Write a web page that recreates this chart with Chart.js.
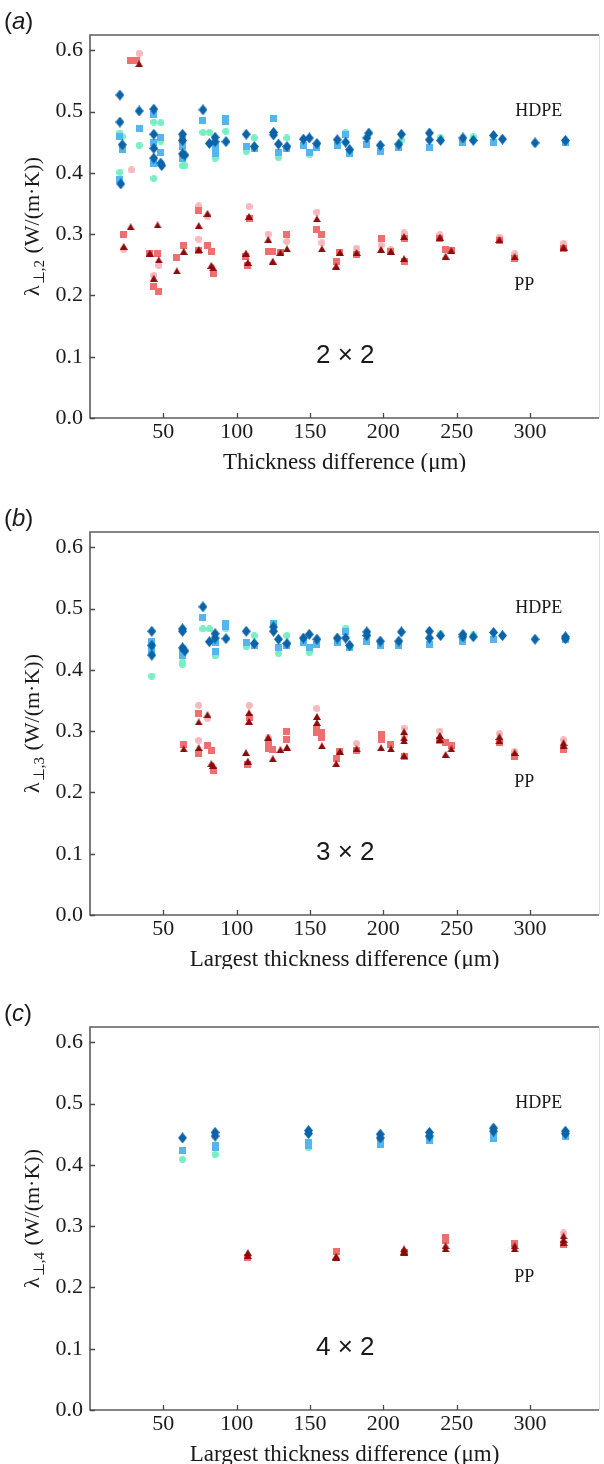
<!DOCTYPE html>
<html>
<head>
<meta charset="utf-8">
<script src="https://cdn.jsdelivr.net/npm/chart.js@4.4.1/dist/chart.umd.min.js"></script>
<style>
  html, body { margin: 0; padding: 0; background: #fff; }
  body { width: 604px; height: 1464px; position: relative; overflow: hidden; }
  .panel { position: absolute; left: 0; width: 604px; height: 472px; }
</style>
</head>
<body>
<div class="panel" style="top:0px"><canvas id="chartA" width="604" height="472"></canvas></div>
<div class="panel" style="top:497px"><canvas id="chartB" width="604" height="472"></canvas></div>
<div class="panel" style="top:992px"><canvas id="chartC" width="604" height="472"></canvas></div>
<script>
// ---- data: [thickness difference (um), lambda (W/(m.K))] ----

// (a) 2 x 2
const aHdpeCircle = [[20.4,0.465],[21,0.459],[20.4,0.401],[22,0.459],[33.5,0.445],[43.5,0.483],[43.5,0.391],[48.2,0.482],[48.2,0.452],[63.1,0.412],[64.7,0.412],[77,0.466],[81.4,0.466],[85.3,0.424],[92.7,0.468],[106.5,0.435],[112,0.457],[128.5,0.425],[134.3,0.457],[149.5,0.43],[174.3,0.466],[212.3,0.454],[239,0.458],[261.3,0.459]];
const aHdpeSquare = [[20.4,0.459],[22,0.438],[20.4,0.389],[33.5,0.472],[43.5,0.496],[43.5,0.449],[43.5,0.416],[48.2,0.457],[48.2,0.433],[63.1,0.443],[63.1,0.454],[63.1,0.424],[77,0.486],[85.3,0.443],[85.3,0.431],[92.7,0.488],[92.7,0.484],[106.5,0.443],[112,0.44],[125.1,0.488],[128.5,0.433],[134.3,0.44],[145.5,0.445],[149.5,0.434],[154.7,0.441],[168.6,0.445],[174.3,0.463],[177,0.432],[188.7,0.446],[197.9,0.435],[210.5,0.441],[231.4,0.441],[254.2,0.449],[275.1,0.449],[324.1,0.45]];
const aHdpeDiamond = [[20.4,0.527],[20.4,0.483],[22,0.446],[21,0.382],[33.5,0.501],[43.5,0.504],[43.5,0.463],[43.5,0.44],[43.5,0.424],[48.2,0.416],[48.9,0.412],[63.1,0.463],[63.1,0.453],[63.1,0.431],[64.7,0.429],[77,0.503],[81.4,0.448],[85.3,0.458],[85.3,0.451],[92.7,0.451],[106.5,0.463],[112,0.443],[125.1,0.466],[125.1,0.462],[128.5,0.447],[134.3,0.443],[145.5,0.455],[149.5,0.457],[154.7,0.448],[168.6,0.454],[174.3,0.45],[177,0.438],[188.7,0.457],[190.1,0.465],[197.9,0.445],[210.5,0.447],[212.3,0.463],[231.4,0.465],[231.4,0.454],[239,0.453],[254.2,0.457],[261.3,0.453],[275.1,0.461],[281.2,0.455],[303.4,0.449],[324.1,0.453]];
const aPpCircle = [[33.5,0.595],[28.3,0.405],[23,0.275],[43.5,0.233],[46.9,0.249],[74.1,0.346],[74.1,0.292],[80.1,0.329],[108.4,0.345],[121.5,0.3],[134.3,0.288],[154.7,0.336],[158.1,0.286],[181.7,0.277],[198.4,0.282],[205.2,0.275],[214.1,0.302],[238.5,0.299],[279.1,0.295],[289.5,0.268],[322.8,0.285]];
const aPpSquare = [[27.7,0.584],[31.7,0.584],[23,0.3],[40.8,0.269],[46.1,0.269],[43.5,0.214],[46.9,0.206],[59.2,0.262],[63.9,0.281],[74.1,0.338],[74.1,0.273],[80.1,0.282],[82.7,0.272],[84,0.236],[106.3,0.264],[107.6,0.249],[108.4,0.326],[121.5,0.272],[124.6,0.272],[129.8,0.27],[134.3,0.3],[154.7,0.307],[158.1,0.3],[167.8,0.255],[170.4,0.27],[181.7,0.267],[198.4,0.293],[205.2,0.271],[214.1,0.293],[214.1,0.256],[238.5,0.293],[242.4,0.275],[246.3,0.273],[279.1,0.289],[289.5,0.26],[322.8,0.277]];
const aPpTriangle = [[33.5,0.578],[23,0.28],[27.7,0.312],[40.8,0.269],[43.5,0.228],[46.1,0.315],[46.9,0.258],[59.2,0.24],[63.9,0.272],[74.1,0.314],[74.1,0.275],[80.1,0.334],[82.7,0.249],[84,0.245],[106.3,0.269],[107.6,0.254],[108.4,0.329],[121.5,0.291],[124.6,0.256],[129.8,0.27],[134.3,0.276],[154.7,0.325],[158.1,0.276],[167.8,0.248],[170.4,0.27],[181.7,0.27],[198.4,0.275],[205.2,0.272],[214.1,0.296],[214.1,0.26],[238.5,0.295],[242.4,0.264],[246.3,0.273],[279.1,0.291],[289.5,0.263],[322.8,0.279]];

// (b) 3 x 2
const bHdpeCircle = [[42.1,0.39],[42.1,0.43],[63.1,0.413],[63.1,0.409],[77,0.467],[81.4,0.467],[85.3,0.423],[92.7,0.467],[106.5,0.438],[112,0.456],[128.5,0.427],[134.3,0.456],[149.5,0.429],[174.3,0.468],[239,0.459],[261.3,0.457]];
const bHdpeSquare = [[42.1,0.447],[42.1,0.433],[42.1,0.43],[63.1,0.428],[63.1,0.424],[77,0.486],[85.3,0.444],[85.3,0.43],[92.7,0.476],[92.7,0.471],[106.5,0.444],[112,0.44],[125.1,0.475],[128.5,0.437],[134.3,0.439],[145.5,0.444],[149.5,0.436],[154.7,0.442],[168.6,0.444],[174.3,0.463],[177,0.436],[188.7,0.447],[197.9,0.439],[210.5,0.44],[231.4,0.442],[254.2,0.447],[275.1,0.45],[324.1,0.45]];
const bHdpeDiamond = [[42.1,0.463],[42.1,0.44],[42.1,0.424],[63.1,0.467],[63.1,0.463],[63.1,0.436],[64.7,0.431],[77,0.503],[81.4,0.446],[85.3,0.459],[85.3,0.452],[92.7,0.451],[106.5,0.463],[112,0.443],[125.1,0.47],[125.1,0.463],[128.5,0.45],[134.3,0.443],[145.5,0.452],[149.5,0.458],[154.7,0.45],[168.6,0.452],[174.3,0.452],[177,0.44],[188.7,0.462],[188.7,0.456],[197.9,0.447],[210.5,0.447],[212.3,0.462],[231.4,0.463],[231.4,0.452],[239,0.456],[254.2,0.458],[254.2,0.454],[261.3,0.454],[275.1,0.461],[281.2,0.456],[303.4,0.45],[324.1,0.454],[324.1,0.451]];
const bPpCircle = [[74.1,0.342],[74.1,0.285],[80.1,0.321],[108.4,0.342],[121.5,0.289],[154.7,0.337],[181.7,0.28],[214.1,0.305],[214.1,0.293],[238.5,0.3],[279.1,0.296],[289.5,0.267],[322.8,0.286]];
const bPpSquare = [[63.9,0.278],[74.1,0.329],[74.1,0.263],[80.1,0.276],[82.7,0.268],[84,0.236],[107.6,0.246],[108.4,0.322],[121.5,0.278],[121.5,0.271],[124.6,0.27],[134.3,0.3],[134.3,0.287],[154.7,0.305],[154.7,0.297],[158.1,0.298],[158.1,0.289],[167.8,0.256],[170.4,0.267],[181.7,0.268],[198.4,0.295],[198.4,0.286],[205.2,0.278],[214.1,0.259],[238.5,0.284],[242.4,0.281],[246.3,0.277],[279.1,0.282],[289.5,0.259],[322.8,0.27]];
const bPpTriangle = [[63.9,0.271],[74.1,0.315],[74.1,0.273],[80.1,0.327],[82.7,0.247],[84,0.244],[106.3,0.265],[107.6,0.251],[108.4,0.33],[108.4,0.316],[121.5,0.29],[124.6,0.255],[129.8,0.27],[134.3,0.274],[154.7,0.324],[154.7,0.314],[158.1,0.276],[167.8,0.247],[170.4,0.267],[181.7,0.271],[198.4,0.273],[205.2,0.271],[214.1,0.299],[214.1,0.289],[214.1,0.284],[214.1,0.26],[238.5,0.293],[238.5,0.287],[242.4,0.262],[246.3,0.271],[279.1,0.291],[279.1,0.284],[289.5,0.265],[322.8,0.281],[322.8,0.276]];

// (c) 4 x 2
const cHdpeCircle = [[63.1,0.409],[85.3,0.417],[149,0.428]];
const cHdpeSquare = [[63.1,0.424],[85.3,0.432],[85.3,0.429],[149,0.436],[149,0.432],[197.9,0.439],[197.9,0.434],[231.4,0.439],[275.1,0.447],[275.1,0.443],[324.1,0.447]];
const cHdpeDiamond = [[63.1,0.444],[85.3,0.453],[85.3,0.447],[149,0.456],[149,0.451],[197.9,0.45],[197.9,0.444],[231.4,0.453],[231.4,0.447],[275.1,0.46],[275.1,0.455],[324.1,0.455],[324.1,0.451]];
const cPpCircle = [[322.8,0.289]];
const cPpSquare = [[107.6,0.249],[167.8,0.258],[214.1,0.257],[242.4,0.281],[242.4,0.276],[289.5,0.272],[322.8,0.27]];
const cPpTriangle = [[107.6,0.257],[107.6,0.252],[167.8,0.251],[167.8,0.249],[214.1,0.263],[214.1,0.259],[214.1,0.257],[242.4,0.268],[242.4,0.263],[289.5,0.268],[289.5,0.263],[322.8,0.284],[322.8,0.278],[322.8,0.273]];

// axes
const xTickValues = [50, 100, 150, 200, 250, 300];
const yTickValues = [0, 0.1, 0.2, 0.3, 0.4, 0.5, 0.6];
const panelLetters = ['a', 'b', 'c'];
const gridLabels = ['2 × 2', '3 × 2', '4 × 2'];
const ySubscripts = ['⊥,2', '⊥,3', '⊥,4'];
const xTitles = ['Thickness difference (μm)', 'Largest thickness difference (μm)', 'Largest thickness difference (μm)'];

const SERIF = '"Liberation Serif", "Times New Roman", serif';
const SANS = '"Liberation Sans", Arial, sans-serif';

// little marker bitmaps, matplotlib-like (no edges)
function marker(shape, color, w, h) {
    const c = document.createElement('canvas');
    c.width = w; c.height = h;
    const g = c.getContext('2d');
    g.fillStyle = color;
    g.beginPath();
    if (shape === 'circle') g.arc(w / 2, h / 2, w / 2, 0, Math.PI * 2);
    else if (shape === 'square') g.rect(0, 0, w, h);
    else if (shape === 'diamond') { g.moveTo(w / 2, 0); g.lineTo(w, h / 2); g.lineTo(w / 2, h); g.lineTo(0, h / 2); }
    else if (shape === 'triangle') { g.moveTo(w / 2, 0); g.lineTo(w, h); g.lineTo(0, h); }
    g.closePath();
    g.fill();
    return c;
}

const styles = {
    hdpeCircle: marker('circle', '#76efc4', 7, 7),
    hdpeSquare: marker('square', '#55b5ec', 7, 7),
    hdpeDiamond: marker('diamond', '#0b63a8', 9, 11),
    ppCircle: marker('circle', '#f8b7bd', 7, 7),
    ppSquare: marker('square', '#ef6f71', 7, 7),
    ppTriangle: marker('triangle', '#8b0b0b', 8, 7),
};

function toPoints(arr) {
    return arr.map(p => ({ x: p[0], y: p[1] }));
}

// frame, inward ticks, titles and annotations
const decorPlugin = {
    id: 'decor',
    afterDraw(chart, args, opts) {
        const { ctx, chartArea: { left, right, top, bottom }, scales: { x, y } } = chart;
        ctx.save();

        // frame
        ctx.lineWidth = 1.6;
        ctx.strokeStyle = '#5c5c5c';
        ctx.beginPath();
        ctx.moveTo(right, top); ctx.lineTo(left, top); ctx.lineTo(left, bottom); ctx.lineTo(right, bottom);
        ctx.stroke();
        ctx.lineWidth = 1;
        ctx.strokeStyle = '#dedede';
        ctx.beginPath();
        ctx.moveTo(right + 0.5, top); ctx.lineTo(right + 0.5, bottom);
        ctx.stroke();

        // inward ticks
        ctx.lineWidth = 1.3;
        ctx.strokeStyle = '#4a4a4a';
        ctx.beginPath();
        xTickValues.forEach(v => {
            const px = Math.round(x.getPixelForValue(v)) + 0.5;
            ctx.moveTo(px, bottom); ctx.lineTo(px, bottom - 5);
        });
        yTickValues.forEach(v => {
            const py = Math.round(y.getPixelForValue(v)) + 0.5;
            ctx.moveTo(left, py); ctx.lineTo(left + 5, py);
        });
        ctx.stroke();

        ctx.fillStyle = '#1a1a1a';

        // x title
        ctx.font = '23px ' + SERIF;
        ctx.textAlign = 'center';
        ctx.textBaseline = 'middle';
        ctx.fillText(opts.xTitle, (left + right) / 2, bottom + 45);

        // y title with subscript, rotated
        ctx.save();
        ctx.translate(39, (top + bottom) / 2);
        ctx.rotate(-Math.PI / 2);
        ctx.textAlign = 'left';
        ctx.textBaseline = 'alphabetic';
        const mainFont = '22px ' + SERIF;
        const subFont = '15px ' + SERIF;
        ctx.font = mainFont;
        const w1 = ctx.measureText('λ').width;
        const w3 = ctx.measureText(' (W/(m·K))').width;
        ctx.font = subFont;
        const w2 = ctx.measureText(opts.ySub).width + 2;
        let cx = -(w1 + w2 + w3) / 2;
        ctx.font = mainFont;
        ctx.fillText('λ', cx, 0);
        cx += w1;
        ctx.font = subFont;
        ctx.fillText(opts.ySub, cx + 1, 5);
        cx += w2;
        ctx.font = mainFont;
        ctx.fillText(' (W/(m·K))', cx, 0);
        ctx.restore();

        // panel letter "(a)"
        ctx.textAlign = 'left';
        ctx.textBaseline = 'middle';
        ctx.font = '24px ' + SANS;
        let lx = 4;
        ctx.fillText('(', lx, 22);
        lx += ctx.measureText('(').width;
        ctx.font = 'italic 24px ' + SANS;
        ctx.fillText(opts.letter, lx, 22);
        lx += ctx.measureText(opts.letter).width;
        ctx.font = '24px ' + SANS;
        ctx.fillText(')', lx, 22);

        // material labels and grid label
        ctx.textAlign = 'center';
        ctx.font = '18px ' + SERIF;
        ctx.fillText('HDPE', x.getPixelForValue(306), y.getPixelForValue(0.5));
        ctx.fillText('PP', x.getPixelForValue(296), y.getPixelForValue(0.217));
        ctx.font = '26px ' + SANS;
        ctx.fillText(opts.gridLabel, x.getPixelForValue(174), y.getPixelForValue(0.101));

        ctx.restore();
    }
};

function makePanel(id, idx, series) {
    const ctx = document.getElementById(id).getContext('2d');
    const sets = [
        { key: 'hdpeCircle', data: series[0], order: 3 },
        { key: 'hdpeSquare', data: series[1], order: 2 },
        { key: 'hdpeDiamond', data: series[2], order: 1 },
        { key: 'ppCircle', data: series[3], order: 3 },
        { key: 'ppSquare', data: series[4], order: 2 },
        { key: 'ppTriangle', data: series[5], order: 1 },
    ];
    return new Chart(ctx, {
        type: 'scatter',
        data: {
            datasets: sets.map(s => ({
                label: s.key,
                data: toPoints(s.data),
                pointStyle: styles[s.key],
                pointRadius: 4,
                order: s.order,
            })),
        },
        options: {
            responsive: false,
            animation: false,
            events: [],
            layout: { padding: { top: 35, right: 3, left: 0, bottom: 0 } },
            plugins: {
                legend: { display: false },
                tooltip: { enabled: false },
                decor: {
                    letter: panelLetters[idx],
                    gridLabel: gridLabels[idx],
                    ySub: ySubscripts[idx],
                    xTitle: xTitles[idx],
                },
            },
            scales: {
                x: {
                    type: 'linear',
                    min: 0,
                    max: 347,
                    border: { display: false },
                    grid: { display: false, drawTicks: false },
                    afterBuildTicks: s => { s.ticks = xTickValues.map(v => ({ value: v })); },
                    ticks: {
                        autoSkip: false,
                        maxRotation: 0,
                        padding: 1,
                        color: '#1a1a1a',
                        font: { family: SERIF, size: 22 },
                    },
                    afterFit: s => { s.height = 54; },
                },
                y: {
                    type: 'linear',
                    min: 0,
                    max: 0.625,
                    border: { display: false },
                    grid: { display: false, drawTicks: false },
                    afterBuildTicks: s => { s.ticks = yTickValues.map(v => ({ value: v })); },
                    ticks: {
                        padding: 7,
                        color: '#1a1a1a',
                        font: { family: SERIF, size: 22 },
                        callback: v => Number(v).toFixed(1),
                    },
                    afterFit: s => { s.width = 90; },
                },
            },
        },
        plugins: [decorPlugin],
    });
}

makePanel('chartA', 0, [aHdpeCircle, aHdpeSquare, aHdpeDiamond, aPpCircle, aPpSquare, aPpTriangle]);
makePanel('chartB', 1, [bHdpeCircle, bHdpeSquare, bHdpeDiamond, bPpCircle, bPpSquare, bPpTriangle]);
makePanel('chartC', 2, [cHdpeCircle, cHdpeSquare, cHdpeDiamond, cPpCircle, cPpSquare, cPpTriangle]);
</script>
</body>
</html>
